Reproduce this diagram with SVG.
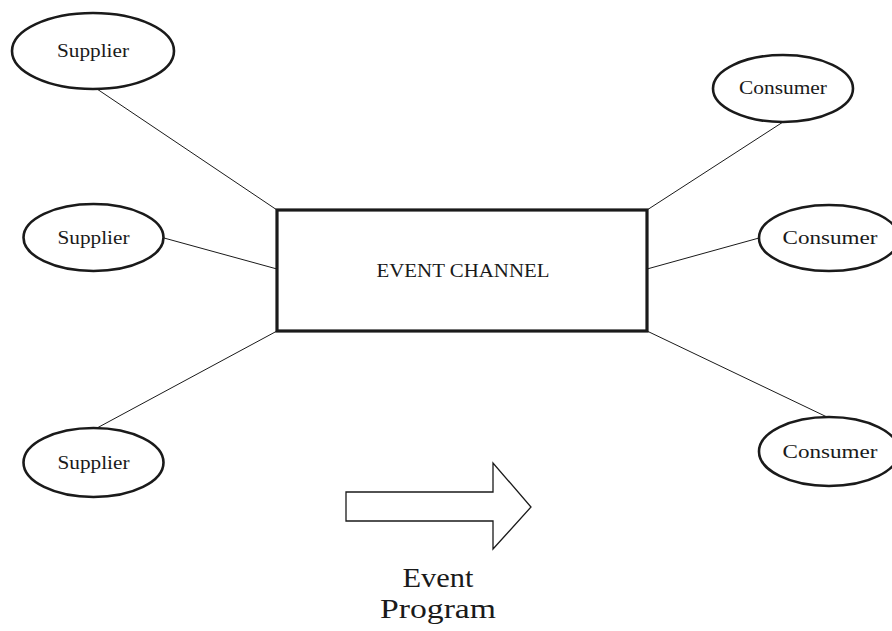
<svg xmlns="http://www.w3.org/2000/svg" width="892" height="631" viewBox="0 0 892 631">
<style>
.node{fill:#fff;stroke:#1a1a1a;stroke-width:2.6}
.box{fill:#fff;stroke:#1a1a1a;stroke-width:3.2}
.lbl{font-family:"Liberation Serif","Times New Roman",serif;font-size:19px;fill:#1a1a1a;text-anchor:middle}
.conn line{stroke:#1a1a1a;stroke-width:1}
.big{font-family:"Liberation Serif","Times New Roman",serif;font-size:28px;fill:#1a1a1a;text-anchor:middle}
</style>
<rect width="892" height="631" fill="#fff"/>
<g id="connectors" class="conn">
<line x1="97" y1="89" x2="277" y2="210"/>
<line x1="164" y1="238" x2="277" y2="269"/>
<line x1="97" y1="428" x2="277" y2="331"/>
<line x1="783" y1="122" x2="647" y2="210"/>
<line x1="759" y1="238" x2="647" y2="269"/>
<line x1="827" y1="417" x2="647" y2="331"/>
</g>
<g id="channel">
<rect class="box" x="277" y="210" width="370" height="121"/>
<text class="lbl" x="463" y="277" textLength="173" lengthAdjust="spacingAndGlyphs">EVENT CHANNEL</text>
</g>
<g id="supplier1">
<ellipse class="node" cx="93" cy="51" rx="81" ry="38"/>
<text class="lbl" x="93" y="57" textLength="72" lengthAdjust="spacingAndGlyphs">Supplier</text>
</g>
<g id="supplier2">
<ellipse class="node" cx="93.5" cy="237.5" rx="70" ry="33.5"/>
<text class="lbl" x="93.5" y="244" textLength="72" lengthAdjust="spacingAndGlyphs">Supplier</text>
</g>
<g id="supplier3">
<ellipse class="node" cx="93.5" cy="462.5" rx="70" ry="34.5"/>
<text class="lbl" x="93.5" y="469" textLength="72" lengthAdjust="spacingAndGlyphs">Supplier</text>
</g>
<g id="consumer1">
<ellipse class="node" cx="783" cy="88.5" rx="70" ry="33.5"/>
<text class="lbl" x="783" y="94" textLength="88" lengthAdjust="spacingAndGlyphs">Consumer</text>
</g>
<g id="consumer2">
<ellipse class="node" cx="829" cy="238" rx="70" ry="33"/>
<text class="lbl" x="830" y="244" textLength="95" lengthAdjust="spacingAndGlyphs">Consumer</text>
</g>
<g id="consumer3">
<ellipse class="node" cx="829" cy="451.5" rx="70" ry="34.5"/>
<text class="lbl" x="830" y="458" textLength="95" lengthAdjust="spacingAndGlyphs">Consumer</text>
</g>
<g id="event-program">
<polygon points="346,492 493,492 493,463 531,507 493,549 493,521 346,521" fill="#fff" stroke="#1a1a1a" stroke-width="1.3"/>
<text class="big" x="438" y="587" textLength="71" lengthAdjust="spacingAndGlyphs">Event</text>
<text class="big" x="438" y="618" textLength="116" lengthAdjust="spacingAndGlyphs">Program</text>
</g>
</svg>
